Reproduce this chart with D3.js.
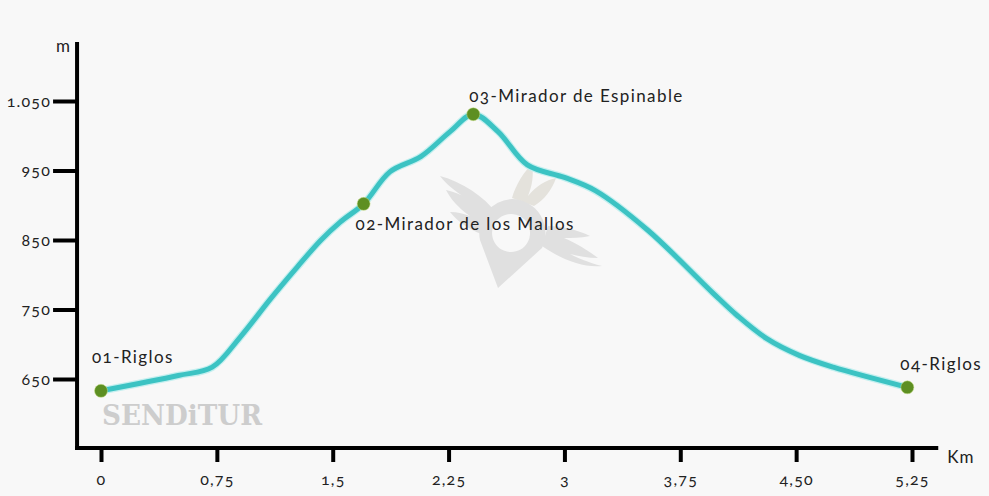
<!DOCTYPE html>
<html>
<head>
<meta charset="utf-8">
<script src="https://cdn.jsdelivr.net/npm/d3@7"></script>
<style>
  html, body { margin: 0; padding: 0; background: #f8f8f8; }
  svg { display: block; font-family: Lato, "Open Sans", sans-serif; }
  .num { font-variant-numeric: oldstyle-nums; }
</style>
</head>
<body>
<div id="chart"></div>
<script>
// Profile: distance (km) and elevation (m)
const distKm = [0, 0.50, 0.72, 0.90, 1.10, 1.27, 1.42, 1.55, 1.70, 1.87, 2.07, 2.26, 2.41,
  2.57, 2.76, 3.00, 3.20, 3.54, 3.96, 4.12, 4.31, 4.52, 4.74, 5.22];
const elevM = [633, 655, 667, 710, 766, 811, 849, 876, 902, 948, 970, 1006, 1031,
  1006, 958, 940, 921, 864, 774, 741, 708, 684, 667, 638];

// Waypoints
const wpNames = ['01-Riglos', '02-Mirador de los Mallos', '03-Mirador de Espinable', '04-Riglos'];
const wpKm = [0, 1.70, 2.41, 5.22];
const wpElev = [633, 902, 1031, 638];

// Tick labels
const xTicks = [0, 0.75, 1.5, 2.25, 3, 3.75, 4.5, 5.25];
const xTickLabels = ['0', '0,75', '1,5', '2,25', '3', '3,75', '4,50', '5,25'];
const yTicks = [650, 750, 850, 950, 1050];
const yTickLabels = ['650', '750', '850', '950', '1.050'];

const width = 989;
const height = 496;

const svg = d3.select('#chart').append('svg')
  .attr('width', width)
  .attr('height', height);

svg.append('rect').attr('width', width).attr('height', height).attr('fill', '#f8f8f8');

const x = d3.scaleLinear().domain([0, 5.25]).range([101, 912]);
const y = d3.scaleLinear().domain([650, 1050]).range([379, 101]);

// Axis frame extents
const axisLeftX = x(-0.155);
const axisBottomY = y(550.7);
const axisRightX = x(5.42);
const axisTopY = y(1135);

// Watermark (logo + brand)
const logo = svg.append('g').attr('fill', '#e0e0e0');
// left wing
logo.append('path')
  .attr('d', 'M440,176 C462,182 484,196 497,214 L488,236 C472,232 458,222 450,212 C458,212 464,214 470,216 C458,208 450,198 446,190 C454,192 460,194 466,198 C456,192 446,184 440,176 Z');
// right wing
logo.append('path')
  .attr('d', 'M602,266 C584,268 562,260 542,246 L548,226 C562,226 578,230 590,236 C580,238 572,238 564,238 C578,244 590,252 598,258 C588,258 578,256 570,254 C582,260 594,264 602,266 Z');
// crest
logo.append('path')
  .attr('fill', '#e4e2dc')
  .attr('d', 'M512,198 C516,184 524,172 532,164 C534,176 532,186 528,196 C536,186 546,180 556,178 C552,190 544,200 534,206 Z');
// ring with point
logo.append('path')
  .attr('d', 'M512,199 A34,34 0 0 1 542,248 L498,288 L480,240 A34,34 0 0 1 512,199 Z M511,214 A19,19 0 1 0 511.1,214 Z')
  .attr('fill-rule', 'evenodd');
svg.append('text')
  .attr('x', 102).attr('y', 425)
  .attr('textLength', 160)
  .attr('lengthAdjust', 'spacingAndGlyphs')
  .attr('font-family', '"DejaVu Serif", serif')
  .attr('font-weight', 'bold')
  .attr('font-size', 27)
  .attr('fill', '#cdcdcd')
  .text('SENDiTUR');

// Axes
const xAxis = svg.append('g')
  .attr('transform', `translate(0,${axisBottomY})`)
  .call(d3.axisBottom(x).tickValues(xTicks).tickSize(14).tickPadding(12)
    .tickFormat((d, i) => xTickLabels[i]));

const yAxis = svg.append('g')
  .attr('transform', `translate(${axisLeftX},0)`)
  .call(d3.axisLeft(y).tickValues(yTicks).tickSize(24).tickPadding(2)
    .tickFormat((d, i) => yTickLabels[i]));

[xAxis, yAxis].forEach(g => {
  g.select('.domain').remove();
  g.selectAll('.tick line').attr('stroke', '#000').attr('stroke-width', 4);
  g.selectAll('.tick text')
    .attr('class', 'num')
    .attr('font-family', 'Lato, "Open Sans", sans-serif')
    .attr('font-size', 16)
    .attr('letter-spacing', 1.2)
    .attr('fill', '#222');
});

svg.append('line')
  .attr('x1', axisLeftX).attr('x2', axisLeftX)
  .attr('y1', axisTopY).attr('y2', axisBottomY + 2)
  .attr('stroke', '#000').attr('stroke-width', 4);
svg.append('line')
  .attr('x1', axisLeftX - 2).attr('x2', axisRightX)
  .attr('y1', axisBottomY).attr('y2', axisBottomY)
  .attr('stroke', '#000').attr('stroke-width', 4);

svg.append('text')
  .attr('x', axisLeftX - 14).attr('y', 52)
  .attr('text-anchor', 'middle')
  .attr('font-size', 17).attr('fill', '#222')
  .text('m');
svg.append('text')
  .attr('x', axisRightX + 9).attr('y', 463)
  .attr('font-size', 17).attr('letter-spacing', 1).attr('fill', '#222')
  .text('Km');

// Profile line
const profile = distKm.map((d, i) => ({ km: d, elev: elevM[i] }));
const line = d3.line()
  .x(d => x(d.km))
  .y(d => y(d.elev))
  .curve(d3.curveCatmullRom.alpha(0.5));

svg.append('path')
  .datum(profile)
  .attr('fill', 'none')
  .attr('stroke', '#c4efef')
  .attr('stroke-width', 7.5)
  .attr('stroke-linecap', 'round')
  .attr('d', line);
svg.append('path')
  .datum(profile)
  .attr('fill', 'none')
  .attr('stroke', '#3cc3c3')
  .attr('stroke-width', 5)
  .attr('stroke-linecap', 'round')
  .attr('d', line);

// Waypoint markers and labels
const waypoints = wpNames.map((n, i) => ({ name: n, km: wpKm[i], elev: wpElev[i] }));
const labelOffsets = [[-9, -28], [-8, 26], [-4, -12], [-7, -17]];

svg.selectAll('.wp')
  .data(waypoints)
  .join('circle')
  .attr('class', 'wp')
  .attr('cx', d => x(d.km))
  .attr('cy', d => y(d.elev))
  .attr('r', 6.5)
  .attr('fill', '#5d8f22')
  .attr('stroke', '#c9e08a')
  .attr('stroke-opacity', 0.5)
  .attr('stroke-width', 1);

svg.selectAll('.wp-label')
  .data(waypoints)
  .join('text')
  .attr('class', 'wp-label num')
  .attr('x', (d, i) => x(d.km) + labelOffsets[i][0])
  .attr('y', (d, i) => y(d.elev) + labelOffsets[i][1])
  .attr('font-size', 17)
  .attr('letter-spacing', 1.4)
  .attr('fill', '#222')
  .text(d => d.name);
</script>
</body>
</html>
